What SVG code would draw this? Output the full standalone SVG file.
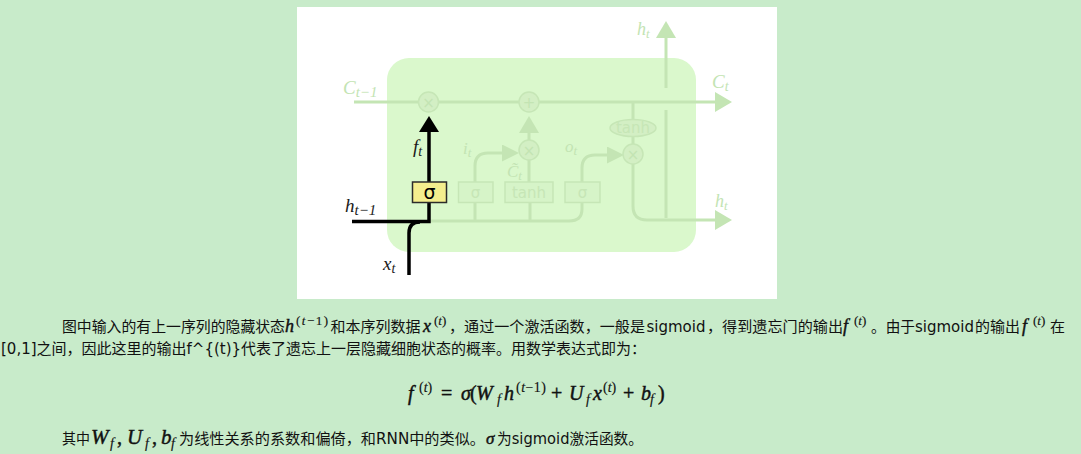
<svg xmlns="http://www.w3.org/2000/svg" width="1081" height="454" viewBox="0 0 1081 454">
  <style>
    .txt { font-family: "DejaVu Sans", "Noto Sans CJK SC", sans-serif; font-size: 15px; fill: #111; }
    .m { font-family: "Liberation Serif", "DejaVu Serif", serif; font-style: italic; fill: #111; stroke: #111; stroke-width: 0.45; }
    .s { stroke-width: 0.15; }
    .up { font-style: normal; }
    .lab { font-family: "Liberation Serif", "DejaVu Serif", serif; font-style: italic; }
    .faint { fill: #c3e4b3; }
    .dark { fill: #1a1a1a; }
    .wire { fill: none; stroke: #c4e5b4; stroke-width: 3; }
    .bold { fill: none; stroke: #000; stroke-width: 3.5; stroke-linejoin: miter; }
    .op { fill: #d3efc4; stroke: #c6e6b6; stroke-width: 1.5; }
    .opsym { font-family: "DejaVu Sans", sans-serif; font-size: 15px; fill: #c3e4b3; text-anchor: middle; }
    .gate { fill: #d6f4c8; stroke: #c6e6b6; stroke-width: 1.5; }
    .gtxt { font-family: "DejaVu Sans", sans-serif; font-size: 15px; fill: #c6e6b6; text-anchor: middle; }
  </style>
  <defs>
    <marker id="arrFaint" markerUnits="userSpaceOnUse" markerWidth="17" markerHeight="20" refX="0" refY="10" orient="auto" viewBox="0 0 17 20">
      <path d="M0,0 L17,10 L0,20 Z" fill="#c4e5b4"/>
    </marker>
    <marker id="arrFaintS" markerUnits="userSpaceOnUse" markerWidth="17" markerHeight="17" refX="0" refY="8.5" orient="auto" viewBox="0 0 17 17">
      <path d="M0,0 L17,8.5 L0,17 Z" fill="#c4e5b4"/>
    </marker>
    <marker id="arrBlack" markerUnits="userSpaceOnUse" markerWidth="16" markerHeight="20" refX="0" refY="10" orient="auto" viewBox="0 0 16 20">
      <path d="M0,0 L16,10 L0,20 Z" fill="#000"/>
    </marker>
  </defs>

  <!-- page background -->
  <rect x="0" y="0" width="1081" height="454" fill="#c8ebca"/>

  <!-- figure panel -->
  <rect x="297" y="7" width="480" height="292" fill="#ffffff"/>

  <!-- LSTM cell body -->
  <g id="cell">
    <rect x="387" y="58" width="309" height="194" rx="22" ry="22" fill="#daf8cc"/>
  </g>

  <!-- connectors -->
  <g id="connectors">
    <!-- cell state -->
    <path class="wire" d="M354,102 H715" marker-end="url(#arrFaint)"/>
    <!-- output to h_t (top) -->
    <path class="wire" d="M666,88 V38" marker-end="url(#arrFaint)"/>
    <path class="wire" d="M666,218 V110"/>
    <!-- cell state down through tanh and output gate multiply -->
    <path class="wire" d="M633,102 V119.5"/>
    <path class="wire" d="M633,136.5 V144"/>
    <path class="wire" d="M633,164 V206 Q633,220 647,220 H715" marker-end="url(#arrFaint)"/>
    <!-- input bus to gates -->
    <path class="wire" d="M430,221 H569 Q582,221 582,209 V202.5"/>
    <path class="wire" d="M475,221 V202.5"/>
    <path class="wire" d="M530,221 V202.5"/>
    <!-- input gate to multiply -->
    <path class="wire" d="M475,182 V166 Q475,153 488,153 H502" marker-end="url(#arrFaintS)"/>
    <!-- candidate to multiply -->
    <path class="wire" d="M529,182 V160"/>
    <!-- multiply up to add -->
    <path class="wire" d="M529,140 V133" marker-end="url(#arrFaint)"/>
    <!-- output gate to multiply -->
    <path class="wire" d="M582,182 V168 Q582,155 595,155 H607" marker-end="url(#arrFaintS)"/>

    <!-- highlighted forget path -->
    <path class="bold" d="M352,221.5 H429 V202.5"/>
    <path class="bold" d="M409,275 V233 Q409,222 420,222"/>
    <path class="bold" d="M429,182 V132" marker-end="url(#arrBlack)"/>
  </g>

  <!-- pointwise operations -->
  <g id="mul-forget">
    <circle class="op" cx="428.5" cy="102" r="10"/>
    <text class="opsym" x="428.5" y="107.5">×</text>
  </g>
  <g id="add-cell">
    <circle class="op" cx="529" cy="102" r="10"/>
    <text class="opsym" x="529" y="107.5">+</text>
  </g>
  <g id="mul-input">
    <circle class="op" cx="529" cy="150" r="10"/>
    <text class="opsym" x="529" y="155.5">×</text>
  </g>
  <g id="tanh-out">
    <ellipse class="op" cx="633" cy="128" rx="23" ry="8.5"/>
    <text class="gtxt" x="633" y="133" font-size="13">tanh</text>
  </g>
  <g id="mul-output">
    <circle class="op" cx="633" cy="154" r="10"/>
    <text class="opsym" x="633" y="159.5">×</text>
  </g>

  <!-- gate layers -->
  <g id="gate-forget">
    <rect x="412.5" y="182" width="34" height="20.5" fill="#f4ee8e" stroke="#2b2b2b" stroke-width="1.5"/>
    <text x="429.5" y="199" font-family="DejaVu Sans, sans-serif" font-size="19" text-anchor="middle" fill="#000">σ</text>
  </g>
  <g id="gate-input">
    <rect class="gate" x="458.5" y="182" width="34.5" height="20.5"/>
    <text class="gtxt" x="475.5" y="198" font-size="18">σ</text>
  </g>
  <g id="gate-candidate">
    <rect class="gate" x="505" y="182" width="48" height="20.5"/>
    <text class="gtxt" x="529" y="197.5">tanh</text>
  </g>
  <g id="gate-output">
    <rect class="gate" x="565" y="182" width="35" height="20.5"/>
    <text class="gtxt" x="582.5" y="198" font-size="18">σ</text>
  </g>

  <!-- variable labels -->
  <g id="labels">
    <text class="lab faint" x="343" y="94" font-size="19">C<tspan font-size="15" dy="3">t−1</tspan></text>
    <text class="lab faint" x="712" y="88" font-size="19">C<tspan font-size="14" dy="3">t</tspan></text>
    <text class="lab faint" x="637" y="35" font-size="18">h<tspan font-size="13" dy="3">t</tspan></text>
    <text class="lab faint" x="715" y="207" font-size="18">h<tspan font-size="13" dy="3">t</tspan></text>
    <text class="lab faint" x="463" y="154" font-size="17">i<tspan font-size="13" dy="3">t</tspan></text>
    <text class="lab faint" x="507" y="177" font-size="17">C̃<tspan font-size="13" dy="3">t</tspan></text>
    <text class="lab faint" x="565" y="152" font-size="17">o<tspan font-size="13" dy="3">t</tspan></text>
    <text class="lab dark" x="413" y="153" font-size="19">f<tspan font-size="14" dy="3">t</tspan></text>
    <text class="lab dark" x="345" y="212" font-size="19">h<tspan font-size="15" dy="3">t−1</tspan></text>
    <text class="lab dark" x="383" y="270" font-size="19">x<tspan font-size="14" dy="3">t</tspan></text>
  </g>

  <!-- paragraph, line 1 -->
  <text class="txt" x="62" y="332" textLength="223" lengthAdjust="spacingAndGlyphs">图中输入的有上一序列的隐藏状态</text>
  <text class="m" x="285" y="332" font-size="18">h</text>
  <text class="m s" x="296" y="325" font-size="13" textLength="32"><tspan class="up">(</tspan>t<tspan class="up">−1)</tspan></text>
  <text class="txt" x="330.5" y="332" textLength="90" lengthAdjust="spacingAndGlyphs">和本序列数据</text>
  <text class="m" x="423" y="332" font-size="18">x</text>
  <text class="m s" x="434" y="325" font-size="13"><tspan class="up">(</tspan>t<tspan class="up">)</tspan></text>
  <text class="txt" x="449" y="332" textLength="196" lengthAdjust="spacingAndGlyphs">，通过一个激活函数，一般是</text>
  <text class="txt" x="646.5" y="332">sigmoid</text>
  <text class="txt" x="707" y="332" textLength="136" lengthAdjust="spacingAndGlyphs">，得到遗忘门的输出</text>
  <text class="m" x="843" y="332" font-size="18">f</text>
  <text class="m s" x="854" y="325" font-size="13"><tspan class="up">(</tspan>t<tspan class="up">)</tspan></text>
  <text class="txt" x="871" y="332" textLength="44" lengthAdjust="spacingAndGlyphs">。由于</text>
  <text class="txt" x="915" y="332">sigmoid</text>
  <text class="txt" x="975" y="332" textLength="45" lengthAdjust="spacingAndGlyphs">的输出</text>
  <text class="m" x="1022" y="332" font-size="18">f</text>
  <text class="m s" x="1033" y="325" font-size="13"><tspan class="up">(</tspan>t<tspan class="up">)</tspan></text>
  <text class="txt" x="1050" y="332">在</text>

  <!-- paragraph, line 2 -->
  <text class="txt" x="1" y="354">[0,1]之间，因此这里的输出f^{(t)}代表了遗忘上一层隐藏细胞状态的概率。用数学表达式即为：</text>

  <!-- forget gate equation -->
  <g id="equation" font-size="20">
    <text class="m" x="408" y="400">f</text>
    <text class="m s" x="419" y="392" font-size="14"><tspan class="up">(</tspan>t<tspan class="up">)</tspan></text>
    <text class="m up" x="441" y="400">=</text>
    <text class="m" x="461" y="400">σ</text>
    <text class="m up" x="470" y="400">(</text>
    <text class="m" x="476" y="400">W</text>
    <text class="m s" x="497" y="404" font-size="14">f</text>
    <text class="m" x="504" y="400">h</text>
    <text class="m s" x="516" y="392" font-size="14" textLength="30"><tspan class="up">(</tspan>t<tspan class="up">−1)</tspan></text>
    <text class="m up" x="551" y="400">+</text>
    <text class="m" x="569" y="400">U</text>
    <text class="m s" x="586" y="404" font-size="14">f</text>
    <text class="m" x="593" y="400">x</text>
    <text class="m s" x="603" y="392" font-size="14"><tspan class="up">(</tspan>t<tspan class="up">)</tspan></text>
    <text class="m up" x="623" y="400">+</text>
    <text class="m" x="641" y="400">b</text>
    <text class="m s" x="650" y="404" font-size="14">f</text>
    <text class="m up" x="658" y="400">)</text>
  </g>

  <!-- closing sentence -->
  <text class="txt" x="62" y="444" textLength="28" lengthAdjust="spacingAndGlyphs">其中</text>
  <text class="m" x="91" y="444" font-size="21">W</text>
  <text class="m s" x="110" y="448" font-size="14">f</text>
  <text class="m up" x="117" y="444" font-size="20">,</text>
  <text class="m" x="127" y="444" font-size="21">U</text>
  <text class="m s" x="145" y="448" font-size="14">f</text>
  <text class="m up" x="152" y="444" font-size="20">,</text>
  <text class="m" x="161" y="444" font-size="21">b</text>
  <text class="m s" x="171" y="448" font-size="14">f</text>
  <text class="txt" x="179" y="444" textLength="306" lengthAdjust="spacingAndGlyphs">为线性关系的系数和偏倚，和RNN中的类似。</text>
  <text class="m" x="486" y="444" font-size="17">σ</text>
  <text class="txt" x="497" y="444" textLength="146" lengthAdjust="spacingAndGlyphs">为sigmoid激活函数。</text>
</svg>
